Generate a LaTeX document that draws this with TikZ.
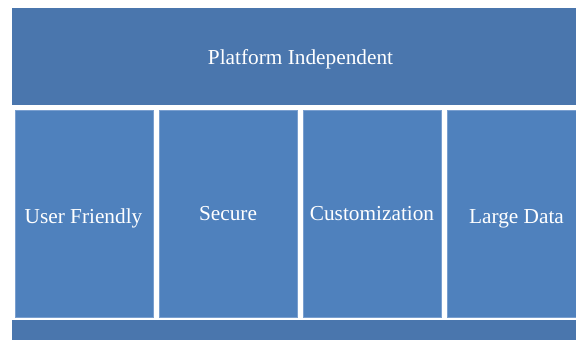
\documentclass[tikz,border=0pt]{standalone}
\usepackage{fontspec}
\setmainfont{Liberation Serif}
\definecolor{bandblue}{HTML}{4A76AD}
\definecolor{colblue}{HTML}{4F81BD}
\definecolor{coledge}{HTML}{7A9FCF}
\begin{document}
\begin{tikzpicture}[x=1pt,y=1pt,
  band/.style={fill=bandblue, draw=none, inner sep=0pt, anchor=south west},
  pillar/.style={fill=colblue, draw=coledge, line width=0.8pt, inner sep=0pt,
    anchor=south west, minimum width=138pt, minimum height=207pt},
  lbl/.style={text=white, font=\fontsize{21.3}{25}\selectfont, inner sep=0pt, anchor=base}]
\useasboundingbox (0,0) rectangle (576,340);
\clip (0,0) rectangle (576,340);
% roof
\node[band, minimum width=580pt, minimum height=97pt] (roof) at (12,235) {};
\node[lbl] (roofl) at (300.5,275.3) {Platform Independent};
% pillars
\node[pillar] (p1) at (15,22.5) {};
\node[pillar] (p2) at (159,22.5) {};
\node[pillar] (p3) at (303,22.5) {};
\node[pillar] (p4) at (447,22.5) {};
\node[lbl] (l1) at (83.5,116.7) {User Friendly};
\node[lbl] (l2) at (228,119.3) {Secure};
\node[lbl] (l3) at (372,119.3) {Customization};
\node[lbl] (l4) at (516.5,116.7) {Large Data};
% base
\node[band, minimum width=580pt, minimum height=30pt] (base) at (12,-10) {};
\end{tikzpicture}
\end{document}
